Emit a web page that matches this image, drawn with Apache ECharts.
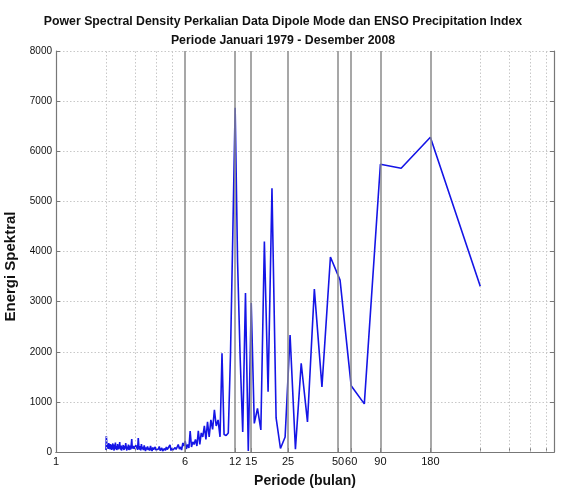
<!DOCTYPE html>
<html>
<head>
<meta charset="utf-8">
<script src="https://cdn.jsdelivr.net/npm/echarts@6/dist/echarts.min.js"></script>
<style>html,body{margin:0;padding:0;background:#fff}#c{width:566px;height:488px}</style>
</head>
<body>
<div id="c"></div>
<script>
// Periods (months) of the periodogram harmonics, ascending
const periods = [
 2,2.01,2.02,2.03,2.05,2.06,2.07,2.08,2.09,2.11,2.12,2.13,2.14,2.16,2.17,2.18,2.2,2.21,2.22,2.24,
 2.25,2.26,2.28,2.29,2.31,2.32,2.34,2.35,2.37,2.38,2.4,2.42,2.43,2.45,2.47,2.48,2.5,2.52,2.54,2.55,
 2.57,2.59,2.61,2.63,2.65,2.67,2.69,2.71,2.73,2.75,2.77,2.79,2.81,2.83,2.86,2.88,2.9,2.93,2.95,2.98,
 3,3.03,3.05,3.08,3.1,3.13,3.16,3.19,3.21,3.24,3.27,3.3,3.33,3.36,3.4,3.43,3.46,3.5,3.53,3.56,
 3.6,3.64,3.67,3.71,3.75,3.79,3.83,3.87,3.91,3.96,4,4.04,4.09,4.14,4.19,4.24,4.29,4.34,4.39,4.44,
 4.5,4.56,4.62,4.68,4.74,4.8,4.86,4.93,5,5.07,5.14,5.22,5.29,5.37,5.45,5.54,5.63,5.71,5.81,5.9,
 6,6.1,6.21,6.32,6.43,6.55,6.67,6.79,6.92,7.06,7.2,7.35,7.5,7.66,7.83,8,8.18,8.37,8.57,8.78,
 9,9.23,9.47,9.73,10,10.29,10.59,10.91,11.25,11.61,12,12.41,12.86,13.33,13.85,14.4,15,15.65,16.36,17.14,
 18,18.95,20,21.18,22.5,24,25.71,27.69,30,32.73,36,40,45,51.43,60,72,90,120,180,360
];
// Spectral energy at each period (same order)
const energy = [
 40,320,210,90,150,60,120,180,70,130,50,160,90,140,40,110,170,60,100,30,
 150,80,190,60,120,40,90,160,50,110,70,200,90,50,130,30,100,60,140,80,
 40,120,70,180,90,30,110,60,150,40,80,130,50,100,260,70,40,120,60,90,
 30,140,70,110,40,280,90,50,120,30,160,60,100,40,130,70,20,90,50,110,
 40,80,30,120,60,20,90,50,30,100,40,70,20,60,110,30,50,80,20,40,
 70,30,100,50,20,60,140,30,80,40,20,90,50,30,150,60,100,40,180,120,
 220,60,150,80,420,100,200,150,250,120,420,150,380,300,520,250,600,300,640,450,
 840,520,640,300,1970,350,330,380,1940,4300,6870,3800,1900,400,3170,20,2970,570,870,440,
 4200,1200,5260,680,70,300,2335,55,1770,600,3250,1300,3890,3430,1320,960,5740,5660,6280,3300
];
// Axis tick labels and grid line positions
const xTickLabels = [1, 6, 12, 15, 25, 50, 60, 90, 180];
const xSolidGrid = [6, 12, 15, 25, 50, 60, 90, 180];
const xDottedGrid = [2, 3, 4, 5, 360, 540, 720, 900];

const FONT = 'Liberation Sans, Arial, sans-serif';
const data = periods.map((p, i) => [p, energy[i]]);
const markData = xSolidGrid.map(v => ({xAxis: v, lineStyle: {type: 'solid', color: '#8a8a8a', width: 1.5}}))
  .concat(xDottedGrid.map(v => ({xAxis: v, lineStyle: {type: [1.5, 2], color: '#c8c8c8', width: 1}})));

const chart = echarts.init(document.getElementById('c'), null, {renderer: 'canvas'});
chart.setOption({
  animation: false,
  backgroundColor: '#fff',
  title: {
    text: 'Power Spectral Density Perkalian Data Dipole Mode dan ENSO Precipitation Index\nPeriode Januari 1979 - Desember 2008',
    left: 'center', top: 7,
    textStyle: {fontFamily: FONT, fontWeight: 'bold', fontSize: 12.3, lineHeight: 19, color: '#111'}
  },
  grid: {left: 56, right: 12, top: 51, bottom: 36, outerBoundsMode: 'none', containLabel: false},
  xAxis: [{
    type: 'log', logBase: 10, min: 1, max: 1000,
    name: 'Periode (bulan)', nameLocation: 'middle', nameGap: 22,
    nameTextStyle: {fontFamily: FONT, fontWeight: 'bold', fontSize: 14, color: '#111'},
    axisLine: {show: true, lineStyle: {color: '#777', width: 1.2}},
    axisTick: {show: true, inside: true, length: 4, customValues: xTickLabels.concat(xDottedGrid), lineStyle: {color: '#777'}},
    axisLabel: {customValues: xTickLabels, fontFamily: FONT, fontSize: 11, color: '#111', margin: 4, formatter: v => String(v)},
    splitLine: {show: false}, minorTick: {show: false}
  }, {
    type: 'log', logBase: 10, min: 1, max: 1000, position: 'top',
    axisLine: {show: true, lineStyle: {color: '#777', width: 1.2}},
    axisTick: {show: false}, axisLabel: {show: false}, splitLine: {show: false}
  }],
  yAxis: [{
    type: 'value', min: 0, max: 8000, interval: 1000,
    name: 'Energi Spektral', nameLocation: 'middle', nameGap: 30, nameRotate: 90,
    nameTextStyle: {fontFamily: FONT, fontWeight: 'bold', fontSize: 15, color: '#111', padding: [0, 30, 0, 0]},
    axisLine: {show: true, lineStyle: {color: '#777', width: 1.2}},
    axisTick: {show: true, inside: true, length: 4, lineStyle: {color: '#777'}},
    axisLabel: {fontFamily: FONT, fontSize: 10, color: '#111', margin: 4, formatter: v => String(v)},
    splitLine: {show: true, lineStyle: {type: [1.5, 2], color: '#c8c8c8', width: 1}}
  }, {
    type: 'value', min: 0, max: 8000, interval: 1000, position: 'right',
    axisLine: {show: true, lineStyle: {color: '#777', width: 1.2}},
    axisTick: {show: true, inside: true, length: 4, lineStyle: {color: '#777'}},
    axisLabel: {show: false}, splitLine: {show: false}
  }],
  series: [{
    type: 'line', data: [], z: 1, silent: true,
    markLine: {silent: true, symbol: 'none', label: {show: false}, animation: false, data: markData}
  }, {
    type: 'line', data: data, z: 3, symbol: 'none', showSymbol: false,
    lineStyle: {color: '#1515e6', width: 1.6}
  }]
});
</script>
</body>
</html>
